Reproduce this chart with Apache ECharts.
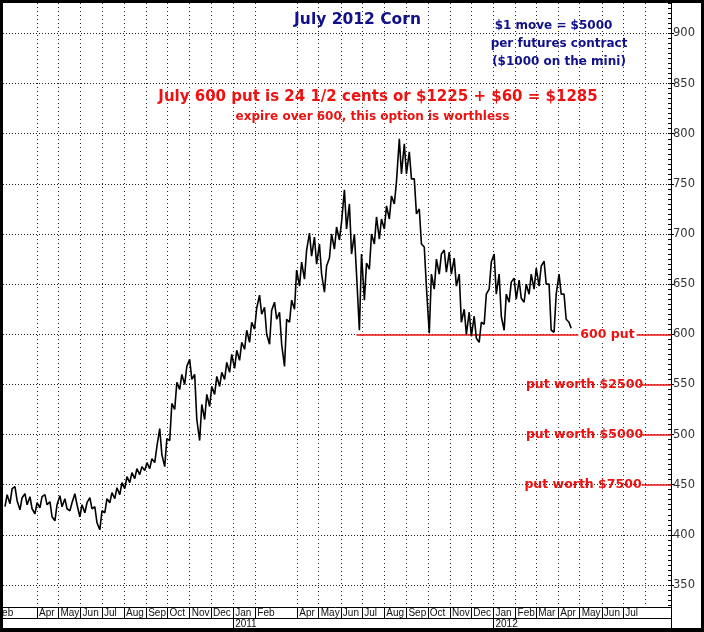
<!DOCTYPE html>
<html><head><meta charset="utf-8">
<script src="https://cdn.jsdelivr.net/npm/echarts@6/dist/echarts.min.js"></script>
<style>html,body{margin:0;padding:0;background:#fff}#c{width:704px;height:632px}</style>
</head><body><div id="c"></div>
<script>
// ---- data (weekly high / low of July 2012 corn futures, cents/bu) ----
const weeks = [
'2010-02-15','2010-02-22','2010-03-01','2010-03-08','2010-03-15','2010-03-22','2010-03-29','2010-04-05','2010-04-12','2010-04-19',
'2010-04-26','2010-05-03','2010-05-10','2010-05-17','2010-05-24','2010-05-31','2010-06-07','2010-06-14','2010-06-21','2010-06-28',
'2010-07-05','2010-07-12','2010-07-19','2010-07-26','2010-08-02','2010-08-09','2010-08-16','2010-08-23','2010-08-30','2010-09-06',
'2010-09-13','2010-09-20','2010-09-27','2010-10-04','2010-10-11','2010-10-18','2010-10-25','2010-11-01','2010-11-08','2010-11-15',
'2010-11-22','2010-11-29','2010-12-06','2010-12-13','2010-12-20','2010-12-27','2011-01-03','2011-01-10','2011-01-17','2011-01-24',
'2011-01-31','2011-02-07','2011-02-14','2011-02-21','2011-02-28','2011-03-07','2011-03-14','2011-03-21','2011-03-28','2011-04-04',
'2011-04-11','2011-04-18','2011-04-25','2011-05-02','2011-05-09','2011-05-16','2011-05-23','2011-05-30','2011-06-06','2011-06-13',
'2011-06-20','2011-06-27','2011-07-04','2011-07-11','2011-07-18','2011-07-25','2011-08-01','2011-08-08','2011-08-15','2011-08-22',
'2011-08-29','2011-09-05','2011-09-12','2011-09-19','2011-09-26','2011-10-03','2011-10-10','2011-10-17','2011-10-24','2011-10-31',
'2011-11-07','2011-11-14','2011-11-21','2011-11-28','2011-12-05','2011-12-12','2011-12-19','2011-12-26','2012-01-02','2012-01-09',
'2012-01-16','2012-01-23','2012-01-30','2012-02-06','2012-02-13','2012-02-20','2012-02-27','2012-03-05','2012-03-12','2012-03-19',
'2012-03-26','2012-04-02','2012-04-09','2012-04-16'];
const weeklyHigh = [
440,446,448,437,441,438,432,438,440,433, 430,439,436,432,441,430,432,437,428,424,
436,442,447,452,458,462,466,468,472,476, 488,506,496,531,552,560,568,575,560,530,
540,548,558,562,572,580,584,592,604,612, 626,639,627,624,632,622,615,634,664,672,
684,701,697,690,668,700,707,712,744,730, 700,680,671,700,717,715,728,738,752,795,
790,782,755,725,687,660,675,680,684,682, 676,660,625,622,618,612,640,672,680,660,
640,652,656,654,650,660,666,668,673,650, 640,660,640,612];
const weeklyLow = [
428,431,434,425,430,426,421,427,430,418, 414,428,426,424,430,418,422,426,412,405,
422,432,436,440,446,452,456,460,464,466, 472,480,468,494,525,545,550,555,515,494,
515,528,540,548,555,562,566,574,585,592, 605,620,600,590,615,590,568,612,625,648,
655,678,670,660,642,676,685,694,705,680, 660,604,634,665,690,695,705,715,730,760,
760,755,720,690,647,601,645,660,662,660, 648,612,600,598,596,592,610,645,640,618,
604,632,635,636,632,640,645,648,650,604, 602,640,615,606];

// ---- axes ----
const priceTicks = [350,400,450,500,550,600,650,700,750,800,850,900];
const minorPriceTicks = [];
for (let v = 330; v <= 930; v += 5) minorPriceTicks.push(v);
const gridMonths = ['2010-04-01','2010-05-01','2010-06-01','2010-07-01','2010-08-01','2010-09-01','2010-10-01','2010-11-01','2010-12-01',
'2011-01-01','2011-02-01','2011-04-01','2011-05-01','2011-06-01','2011-07-01','2011-08-01','2011-09-01','2011-10-01','2011-11-01','2011-12-01',
'2012-01-01','2012-02-01','2012-03-01','2012-04-01','2012-05-01','2012-06-01','2012-07-01','2012-08-01'];
const labelMonths = ['2010-04-01','2010-05-01','2010-06-01','2010-07-01','2010-08-01','2010-09-01','2010-10-01','2010-11-01','2010-12-01',
'2011-01-01','2011-02-01','2011-04-01','2011-05-01','2011-06-01','2011-07-01','2011-08-01','2011-09-01','2011-10-01','2011-11-01','2011-12-01',
'2012-01-01','2012-02-01','2012-03-01','2012-04-01','2012-05-01','2012-06-01','2012-07-01'];
const firstMonthLabel = 'Feb';
const yearStarts = ['2011-01-01','2012-01-01'];
const monthNames = ['Jan','Feb','Mar','Apr','May','Jun','Jul','Aug','Sep','Oct','Nov','Dec'];
const xStart = '2010-02-08', xEnd = '2012-09-06';

// ---- put level lines ----
const putLines = [
  {value: 600, from: '2011-06-23'},
  {value: 550, from: '2012-07-28'},
  {value: 500, from: '2012-07-28'},
  {value: 450, from: '2012-07-27'}
];

const DAY = 86400000;
const t = s => new Date(s).getTime();
const priceData = [];
weeks.forEach((w, i) => {
  const mon = t(w), thu = mon + 3 * DAY;
  const mid = (weeklyHigh[i] + weeklyLow[i]) / 2;
  const nextMid = i + 1 < weeks.length ? (weeklyHigh[i + 1] + weeklyLow[i + 1]) / 2 : mid - 1;
  if (nextMid >= mid) priceData.push([mon, weeklyLow[i]], [thu, weeklyHigh[i]]);
  else priceData.push([mon, weeklyHigh[i]], [thu, weeklyLow[i]]);
});

const RED = '#ee1111', NAVY = '#10108a';
const FONT = 'DejaVu Sans';
function txt(text, x, y, size, color, extra, weight) {
  return {
    type: 'text', z: 100, x: x, y: y,
    style: Object.assign({text: text, fill: color, font: (weight || 'bold') + ' ' + size + 'px "' + FONT + '"', align: 'center', verticalAlign: 'middle'}, extra || {})
  };
}

const chart = echarts.init(document.getElementById('c'), null, {renderer: 'canvas'});
const xBase = {type: 'value', min: t(xStart), max: t(xEnd), gridIndex: 0, position: 'bottom'};
chart.setOption({
  animation: false,
  backgroundColor: '#fff',
  grid: {left: 0, right: 33, top: 3, bottom: 25, containLabel: false},
  xAxis: [
    Object.assign({}, xBase, {
      axisLine: {show: true, lineStyle: {color: '#000', width: 1}},
      axisTick: {show: false, customValues: gridMonths.map(t)},
      axisLabel: {show: false},
      splitLine: {show: true, lineStyle: {color: '#222', width: 1, type: [1, 3]}}
    }),
    Object.assign({}, xBase, {
      axisLine: {show: false},
      axisTick: {show: true, customValues: labelMonths.map(t), length: 11, lineStyle: {color: '#000', width: 1}},
      axisLabel: {customValues: labelMonths.map(t), formatter: v => monthNames[new Date(v).getUTCMonth()],
        align: 'left', padding: [0, 0, 0, 2], margin: 1, fontSize: 10, lineHeight: 10, fontFamily: 'Liberation Sans', color: '#111'},
      splitLine: {show: false}
    }),
    Object.assign({}, xBase, {
      offset: 11,
      axisLine: {show: true, lineStyle: {color: '#000', width: 1}},
      axisTick: {show: true, customValues: yearStarts.map(t), length: 10, lineStyle: {color: '#000', width: 1}},
      axisLabel: {customValues: yearStarts.map(t), formatter: v => String(new Date(v).getUTCFullYear()),
        align: 'left', padding: [0, 0, 0, 2], margin: 1, fontSize: 10, lineHeight: 10, fontFamily: 'Liberation Sans', color: '#111'},
      splitLine: {show: false}
    })
  ],
  yAxis: [
    {type: 'value', position: 'right', min: 328, max: 930.4,
      axisLine: {show: true, lineStyle: {color: '#000', width: 1}},
      axisTick: {show: true, customValues: priceTicks, length: 3, lineStyle: {color: '#000'}},
      axisLabel: {customValues: priceTicks, color: '#333', fontFamily: FONT, fontSize: 11.5, margin: 2},
      splitLine: {show: true, lineStyle: {color: '#222', width: 1, type: [1, 2]}}
    },
    {type: 'value', position: 'right', min: 328, max: 930.4,
      axisLine: {show: false},
      axisTick: {show: true, inside: true, customValues: minorPriceTicks, length: 3, lineStyle: {color: '#000'}},
      axisLabel: {show: false},
      splitLine: {show: false}
    }
  ],
  series: [{
    type: 'line', name: 'July 2012 Corn', data: priceData, xAxisIndex: 0, yAxisIndex: 0,
    showSymbol: false, symbol: 'none', lineStyle: {color: '#000', width: 1.6}, z: 5,
    markLine: {
      silent: true, symbol: ['none', 'none'], label: {show: false}, z: 4,
      lineStyle: {color: RED, width: 1.5, type: 'solid'},
      data: putLines.map(p => [{coord: [t(p.from), p.value]}, {coord: [t(xEnd), p.value]}])
    }
  }],
  graphic: [
    txt('July 2012 Corn', 357.5, 20, 15.5, NAVY),
    txt('$1 move = $5000', 553.5, 26, 12, NAVY),
    txt('per futures contract', 559, 44, 12, NAVY),
    txt('($1000 on the mini)', 559, 62, 12, NAVY),
    txt('July 600 put is 24 1/2 cents or $1225 + $60 = $1285', 378, 97, 15, RED),
    txt('expire over 600, this option is worthless', 372.5, 117, 12, RED),
    txt('600 put', 607.5, 335, 12.5, RED, {backgroundColor: '#fff', padding: [0, 2, 0, 2]}),
    txt('put worth $2500', 584.5, 385, 12.5, RED),
    txt('put worth $5000', 584.5, 435, 12.5, RED),
    txt('put worth $7500', 583, 485, 12.5, RED),
    {type: 'text', z: 90, x: -4, y: 613, style: {text: firstMonthLabel, fill: '#111', font: '10px "Liberation Sans"', align: 'left', verticalAlign: 'middle'}},
    {type: 'line', z: 100, shape: {x1: 671.5, y1: 607, x2: 671.5, y2: 628}, style: {stroke: '#000', lineWidth: 1}},
    {type: 'rect', z: 110, shape: {x: 0, y: 0, width: 704, height: 3}, style: {fill: '#000'}},
    {type: 'rect', z: 110, shape: {x: 0, y: 0, width: 3, height: 632}, style: {fill: '#000'}},
    {type: 'rect', z: 110, shape: {x: 701, y: 0, width: 3, height: 632}, style: {fill: '#000'}},
    {type: 'rect', z: 110, shape: {x: 0, y: 628, width: 704, height: 4}, style: {fill: '#000'}}
  ]
});
</script>
</body></html>
